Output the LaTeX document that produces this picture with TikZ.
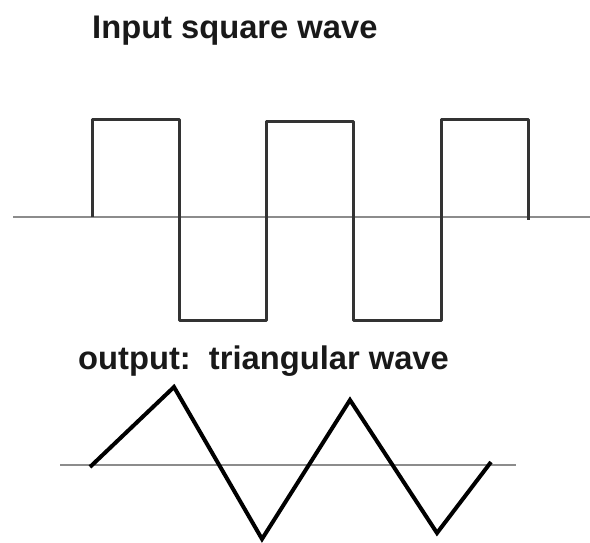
\documentclass[tikz,border=0pt]{standalone}
\usepackage{fontspec}
\setmainfont{Liberation Sans}
\begin{document}
\begin{tikzpicture}[x=1pt,y=-1pt,
  axis/.style={draw=black!45,line width=1.6pt},
  sqwave/.style={draw=black!80,line width=3pt,line join=round},
  triwave/.style={draw=black,line width=4pt,line join=miter},
  title/.style={font=\fontsize{32.7}{36}\selectfont\bfseries,inner sep=0pt,anchor=base west,text=black!90}]
\useasboundingbox[fill=white] (0,0) rectangle (590,542);
% titles
\node[title] (t1) at (92,38) {Input square wave};
\node[title] (t2) at (78,369) {output:\ \ triangular wave};
% square wave
\coordinate (a0) at (13,217);
\coordinate (a1) at (590,217);
\draw[axis] (a0) -- (a1);
\draw[sqwave] (92,217) -- (92,119) -- (179,119) -- (179,320) -- (266,320) -- (266,121) -- (353,121) -- (353,320) -- (441,320) -- (441,119) -- (528,119) -- (528,220);
% triangular wave
\coordinate (b0) at (60,465);
\coordinate (b1) at (516,465);
\draw[axis] (b0) -- (b1);
\draw[triwave] (90,467) -- (174,387) -- (262,539) -- (350,400) -- (437,533) -- (491,462);
\end{tikzpicture}
\end{document}
